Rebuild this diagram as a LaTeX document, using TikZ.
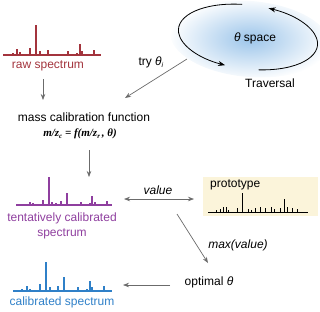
\documentclass[tikz,border=0pt]{standalone}
\usepackage{fontspec}
\setmainfont{Liberation Sans}
\newfontfamily\frmfont{Liberation Serif}
\usetikzlibrary{arrows.meta}
\definecolor{rawc}{HTML}{A3343D}
\definecolor{tentc}{HTML}{8F3F9F}
\definecolor{calc}{HTML}{2F80C8}
\definecolor{arrowc}{HTML}{6B6B6B}
\definecolor{protoc}{HTML}{FBF4DA}
\definecolor{glowc}{HTML}{9CC5EA}
\newcommand{\mysub}[1]{\raisebox{-2pt}{\fontsize{7}{8}\selectfont #1}}
\begin{document}
\begin{tikzpicture}[x=1pt,y=-1pt,
  lbl/.style={font=\fontsize{12}{14}\selectfont, inner sep=0pt},
  frm/.style={font=\frmfont\fontsize{11}{12}\selectfont\bfseries\itshape, inner sep=0pt},
  conn/.style={draw=arrowc, line width=0.7pt, -{Stealth[length=6pt,width=4.5pt]}},
  loop/.style={draw=black, line width=0.8pt, -{Stealth[length=7pt,width=5pt]}},
  spec/.style={line width=1.4pt}]
\useasboundingbox (0,0) rectangle (320,311);
% theta space
\shade[inner color=glowc, outer color=white, rotate around={-5:(250,39)}] (250,39) ellipse [x radius=80, y radius=38];
\node[lbl] (th) at (255,38) {\textit{θ} space};
\begin{scope}[shift={(248,37)}, rotate=-7]
  \coordinate (thc) at (0,0);
  \draw[loop] ([shift={(-98:70 and 32)}]thc) arc[start angle=-98, end angle=-254, x radius=70, y radius=32];
  \draw[loop] ([shift={(-282:70 and 32)}]thc) arc[start angle=-282, end angle=-436, x radius=70, y radius=32];
\end{scope}
\node[lbl] (trav) at (270,83) {Traversal};
% raw spectrum
\draw[rawc,spec] (3,55) -- (101,55);
\foreach \x/\h in {13/2,17/6,20/3,30/7,36/30,40/4,48/5,55/1,68/4,77/2,80/11,82/4,94/5}
  \draw[rawc,spec] (\x,55) -- ++(0,-\h);
\node[lbl,text=rawc] (rawlbl) at (48,66) {raw spectrum};
% mass calibration
\node[lbl] (mcf) at (84,117) {mass calibration function};
\node[frm] (formula) at (80,134) {m/z\mysub{c} = f(m/z\mysub{r}\,, θ)};
\node[lbl] (try) at (151,62) {try \textit{θ}\mysub{\textit{i}}};
% tentative spectrum
\draw[tentc,spec] (16,205) -- (112,205);
\foreach \x/\h in {26/1,30/3,33/2,43/5,49/28,52/3,56/2,61/4,67/12,81/3,90/2,92/9,95/3,107/4}
  \draw[tentc,spec] (\x,205) -- ++(0,-\h);
\node[lbl,text=tentc,align=center] (tentlbl) at (62,225.5) {tentatively calibrated\\[1pt]spectrum};
% calibrated spectrum
\draw[calc,spec] (13,291) -- (112,291);
\foreach \x/\h in {22/2,27/5,30/2,40/7,46/29,50/4,58/5,64/14,65.5/1,78/4,87/2,90/10,92/4,104/5}
  \draw[calc,spec] (\x,291) -- ++(0,-\h);
\node[lbl,text=calc] (callbl) at (62,302) {calibrated spectrum};
% prototype
\fill[protoc] (203,177) rectangle (318,216);
\node[lbl,anchor=west] (proto) at (210,185) {prototype};
\draw[line width=1pt] (208,212) -- (308,212);
\foreach \x/\h in {216/2,220/3,223/5,226/5,228/2,237/4,242/19,248/3,251/2,255/4,260/5,265/4,271/5,274/3,280/4,284/13,287/5,292/4,297/3}
  \draw[line width=1pt] (\x,212) -- ++(0,-\h);
% other labels
\node[lbl] (val) at (158,190) {\textit{value}};
\node[lbl] (maxv) at (238,245) {\textit{max(value)}};
\node[lbl] (opt) at (209,282) {optimal \textit{θ}};
% connectors
\coordinate (rawB) at (43,79);
\coordinate (mcfT) at (43,100);
\coordinate (formB) at (89,150);
\coordinate (tentT) at (89,177);
\coordinate (tentR) at (124,199);
\coordinate (protoL) at (194,199);
\coordinate (protoB) at (177,214);
\coordinate (optT) at (208,263);
\coordinate (optL) at (170,285);
\coordinate (calR) at (123,285);
\coordinate (trystart) at (187,59);
\coordinate (tryend) at (125,98);
\draw[conn] (rawB) -- (mcfT);
\draw[conn] (trystart) -- (tryend);
\draw[conn] (formB) -- (tentT);
\draw[conn,{Stealth[length=6pt,width=4.5pt]}-{Stealth[length=6pt,width=4.5pt]}] (tentR) -- (protoL);
\draw[conn] (protoB) -- (optT);
\draw[conn] (optL) -- (calR);
\end{tikzpicture}
\end{document}
